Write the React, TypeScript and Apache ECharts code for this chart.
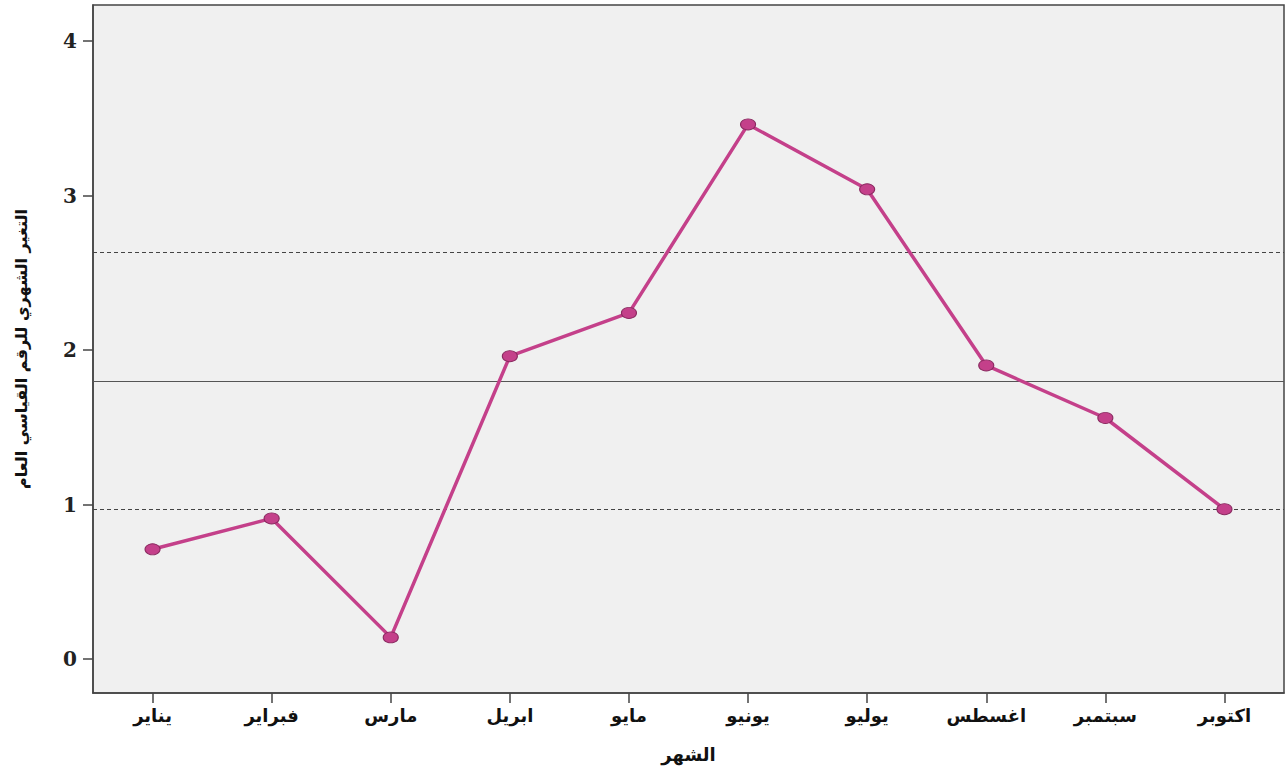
import React, { useEffect, useRef } from "react";
import * as echarts from "echarts";

const months = ["يناير", "فبراير", "مارس", "ابريل", "مايو", "يونيو", "يوليو", "اغسطس", "سبتمبر", "اكتوبر"];
const monthlyChange = [0.71, 0.91, 0.14, 1.96, 2.24, 3.46, 3.04, 1.9, 1.56, 0.97];
const centerLine = 1.8;
const upperLimit = 2.63;
const lowerLimit = 0.97;
const yTicks = [0, 1, 2, 3, 4];

export default function App() {
  const ref = useRef<HTMLDivElement>(null);
  useEffect(() => {
    const chart = echarts.init(ref.current!, null, { renderer: "svg" });
    chart.setOption({
      animation: false,
      backgroundColor: "#ffffff",
      grid: {
        left: 93,
        top: 5,
        right: 3,
        bottom: 78,
        show: true,
        backgroundColor: "#f0f0f0",
        borderColor: "#444444",
        borderWidth: 1.5,
      },
      xAxis: {
        type: "category",
        data: months,
        boundaryGap: true,
        name: "الشهر",
        nameLocation: "middle",
        nameGap: 52,
        nameTextStyle: { fontFamily: "DejaVu Sans", fontSize: 18, fontWeight: "bold", color: "#111" },
        axisLine: { show: true, onZero: false, lineStyle: { color: "#444444", width: 1.5 } },
        axisTick: { show: true, alignWithLabel: true, length: 10, lineStyle: { color: "#444444", width: 1.5 } },
        axisLabel: { margin: 13, fontFamily: "DejaVu Sans", fontSize: 18, fontWeight: "bold", color: "#111" },
        splitLine: { show: false },
      },
      yAxis: {
        type: "value",
        min: -0.22,
        max: 4.233,
        name: "التغير الشهري للرقم القياسي العام",
        nameLocation: "middle",
        nameRotate: 90,
        nameGap: 64,
        nameTextStyle: { fontFamily: "DejaVu Sans", fontSize: 16, fontWeight: "bold", color: "#111" },
        axisLine: { show: true, lineStyle: { color: "#444444", width: 1.5 } },
        axisTick: { show: true, length: 10, customValues: yTicks, lineStyle: { color: "#444444", width: 1.5 } },
        axisLabel: {
          customValues: yTicks,
          margin: 16,
          fontFamily: "DejaVu Serif",
          fontWeight: "bold",
          fontSize: 20,
          color: "#222",
        },
        splitLine: { show: false },
      },
      series: [
        {
          type: "line",
          data: monthlyChange,
          symbol: "circle",
          symbolSize: [15, 11],
          lineStyle: { color: "#c4408a", width: 3.5 },
          itemStyle: { color: "#c4408a", borderColor: "#8a2a60", borderWidth: 1 },
          z: 5,
          markLine: {
            silent: true,
            symbol: "none",
            label: { show: false },
            data: [
              { yAxis: centerLine, lineStyle: { type: "solid", color: "#555555", width: 1.2 } },
              { yAxis: upperLimit, lineStyle: { type: [4, 3], color: "#444444", width: 1.2 } },
              { yAxis: lowerLimit, lineStyle: { type: [4, 3], color: "#444444", width: 1.2 } },
            ],
          },
        },
      ],
    });
    return () => chart.dispose();
  }, []);
  return <div ref={ref} style={{ position: "fixed", left: 0, top: 0, width: 1287, height: 771 }} />;
}
